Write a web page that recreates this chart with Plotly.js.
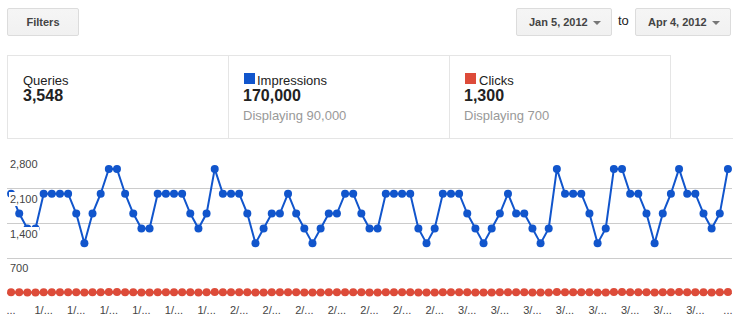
<!DOCTYPE html>
<html>
<head>
<meta charset="utf-8">
<script src="https://cdn.plot.ly/plotly-3.0.1.min.js"></script>
<style>
  html, body { margin: 0; padding: 0; background: #fff; width: 738px; height: 319px; overflow: hidden; }
  body { font-family: "Liberation Sans", Arial, sans-serif; position: relative; }
  #chart { position: absolute; left: 0; top: 0; width: 738px; height: 319px; z-index: 0; }
  .abs { position: absolute; z-index: 1; white-space: nowrap; line-height: normal; }
  .btn { box-sizing: border-box; border: 1px solid #dcdcdc; border-radius: 2px;
         background: linear-gradient(#f5f5f5, #f1f1f1); color: #444; font-weight: bold; font-size: 11px; }
  .line { position: absolute; background: #e5e5e5; z-index: 1; }
  .arrow { position: absolute; width: 0; height: 0; border-left: 4px solid transparent; border-right: 4px solid transparent; border-top: 4px solid #777; }
  .sq { position: absolute; width: 11px; height: 11px; }
  .lbl { font-size: 13px; color: #222; }
  .big { font-size: 16px; font-weight: bold; color: #222; }
  .sub { font-size: 13px; color: #999; }
</style>
</head>
<body>
<div id="chart"></div>

<div class="abs btn" style="left:7px;top:8px;width:72px;height:28px;text-align:center;line-height:26px;">Filters</div>
<div class="abs btn" style="left:516px;top:8px;width:96px;height:28px;line-height:26px;padding-left:12px;">Jan 5, 2012<div class="arrow" style="left:76px;top:12px;"></div></div>
<div class="abs" style="left:618px;top:13px;font-size:13px;color:#222;">to</div>
<div class="abs btn" style="left:635px;top:8px;width:96px;height:28px;line-height:26px;padding-left:12px;">Apr 4, 2012<div class="arrow" style="left:76px;top:12px;"></div></div>

<div class="line" style="left:7px;top:55px;width:664px;height:1px;"></div>
<div class="line" style="left:7px;top:138px;width:726px;height:1px;"></div>
<div class="line" style="left:7px;top:55px;width:1px;height:84px;"></div>
<div class="line" style="left:228px;top:55px;width:1px;height:84px;"></div>
<div class="line" style="left:449px;top:55px;width:1px;height:84px;"></div>
<div class="line" style="left:670px;top:55px;width:1px;height:84px;"></div>

<div class="abs lbl" style="left:23px;top:72.6px;">Queries</div>
<div class="abs big" style="left:23px;top:87px;">3,548</div>

<div class="sq" style="left:244px;top:73px;background:#1155cc;z-index:1;"></div>
<div class="abs lbl" style="left:257px;top:72.6px;">Impressions</div>
<div class="abs big" style="left:243px;top:87px;">170,000</div>
<div class="abs sub" style="left:243px;top:108px;">Displaying 90,000</div>

<div class="sq" style="left:465px;top:73px;background:#dd4b39;z-index:1;"></div>
<div class="abs lbl" style="left:479px;top:72.6px;">Clicks</div>
<div class="abs big" style="left:464px;top:87px;">1,300</div>
<div class="abs sub" style="left:464px;top:108px;">Displaying 700</div>

<script>
// ---- data ----
const dates = [
  "2012-01-05","2012-01-06","2012-01-07","2012-01-08","2012-01-09","2012-01-10","2012-01-11","2012-01-12","2012-01-13","2012-01-14",
  "2012-01-15","2012-01-16","2012-01-17","2012-01-18","2012-01-19","2012-01-20","2012-01-21","2012-01-22","2012-01-23","2012-01-24",
  "2012-01-25","2012-01-26","2012-01-27","2012-01-28","2012-01-29","2012-01-30","2012-01-31","2012-02-01","2012-02-02","2012-02-03",
  "2012-02-04","2012-02-05","2012-02-06","2012-02-07","2012-02-08","2012-02-09","2012-02-10","2012-02-11","2012-02-12","2012-02-13",
  "2012-02-14","2012-02-15","2012-02-16","2012-02-17","2012-02-18","2012-02-19","2012-02-20","2012-02-21","2012-02-22","2012-02-23",
  "2012-02-24","2012-02-25","2012-02-26","2012-02-27","2012-02-28","2012-02-29","2012-03-01","2012-03-02","2012-03-03","2012-03-04",
  "2012-03-05","2012-03-06","2012-03-07","2012-03-08","2012-03-09","2012-03-10","2012-03-11","2012-03-12","2012-03-13","2012-03-14",
  "2012-03-15","2012-03-16","2012-03-17","2012-03-18","2012-03-19","2012-03-20","2012-03-21","2012-03-22","2012-03-23","2012-03-24",
  "2012-03-25","2012-03-26","2012-03-27","2012-03-28","2012-03-29","2012-03-30","2012-03-31","2012-04-01","2012-04-02"
];
const impressions = [
  2000,1600,1300,1300,2000,2000,2000,2000,1600,1000,
  1600,2000,2500,2500,2000,1600,1300,1300,2000,2000,
  2000,2000,1600,1300,1600,2500,2000,2000,2000,1600,
  1000,1300,1600,1600,2000,1600,1300,1000,1300,1600,
  1600,2000,2000,1600,1300,1300,2000,2000,2000,2000,
  1300,1000,1300,2000,2000,2000,1600,1300,1000,1300,
  1600,2000,1600,1600,1300,1000,1300,2500,2000,2000,
  2000,1600,1000,1300,2500,2500,2000,2000,1600,1000,
  1600,2000,2500,2000,2000,1600,1300,1600,2500
];
const clicks = [
  15,14,10,9,16,17,16,15,14,8,
  13,16,18,19,16,14,10,11,17,16,
  15,16,13,9,14,19,17,16,15,13,
  8,10,13,14,17,14,10,8,10,13,
  14,16,17,13,10,9,16,17,16,17,
  10,8,10,16,17,16,13,9,8,10,
  14,17,13,14,11,8,10,19,17,16,
  16,13,8,11,19,18,17,16,13,8,
  14,16,19,17,16,13,10,14,18
];
const xTickVals = [
  "2012-01-05","2012-01-09","2012-01-13","2012-01-17","2012-01-21","2012-01-25","2012-01-29",
  "2012-02-02","2012-02-06","2012-02-10","2012-02-14","2012-02-18","2012-02-22","2012-02-26",
  "2012-03-01","2012-03-05","2012-03-09","2012-03-13","2012-03-17","2012-03-21","2012-03-25","2012-03-29",
  "2012-04-02"
];
const xTickText = [
  "...","1/...","1/...","1/...","1/...","1/...","1/...",
  "2/...","2/...","2/...","2/...","2/...","2/...","2/...",
  "3/...","3/...","3/...","3/...","3/...","3/...","3/...","3/...",
  "..."
];
const yTickVals = [700, 1400, 2100, 2800];
const yTickText = ["700", "1,400", "2,100", "2,800"];

// ---- chart ----
const FONT = "Liberation Sans, Arial, sans-serif";
const traces = [
  { x: dates, y: clicks, type: "scatter", mode: "lines+markers", name: "Clicks",
    line: { color: "#dd4b39", width: 2 }, marker: { color: "#dd4b39", size: 8 },
    cliponaxis: false, hoverinfo: "skip" },
  { x: dates, y: impressions, type: "scatter", mode: "lines+markers", name: "Impressions",
    line: { color: "#1155cc", width: 2 }, marker: { color: "#1155cc", size: 8 },
    cliponaxis: false, hoverinfo: "skip" }
];
const annotations = yTickVals.map((v, i) => ({
  xref: "paper", yref: "y", x: 0, y: v, xanchor: "left", yanchor: "middle",
  xshift: 1.5, yshift: -10, text: yTickText[i], showarrow: false,
  bgcolor: "#ffffff", borderpad: 1, borderwidth: 0,
  font: { family: FONT, size: 11, color: "#444" }
}));
const layout = {
  width: 738, height: 319,
  margin: { l: 7, r: 6, t: 154, b: 26, pad: 0 },
  paper_bgcolor: "rgba(0,0,0,0)", plot_bgcolor: "rgba(0,0,0,0)",
  showlegend: false, hovermode: false,
  font: { family: FONT, size: 11, color: "#444" },
  xaxis: {
    type: "date", range: ["2012-01-04 12:00", "2012-04-02 12:00"],
    tickmode: "array", tickvals: xTickVals, ticktext: xTickText, tickangle: 0,
    tickfont: { family: FONT, size: 11, color: "#444" },
    ticks: "outside", ticklen: 7, tickcolor: "rgba(0,0,0,0)",
    showgrid: false, zeroline: false, showline: false, automargin: false, fixedrange: true
  },
  yaxis: {
    range: [0, 2800], tickmode: "array", tickvals: [0].concat(yTickVals),
    showticklabels: false, ticks: "", gridcolor: "#cccccc", gridwidth: 1,
    zeroline: true, zerolinecolor: "#999999", zerolinewidth: 1,
    showline: false, automargin: false, fixedrange: true
  },
  annotations: annotations
};
Plotly.newPlot("chart", traces, layout, { displayModeBar: false, staticPlot: true });
</script>
</body>
</html>
